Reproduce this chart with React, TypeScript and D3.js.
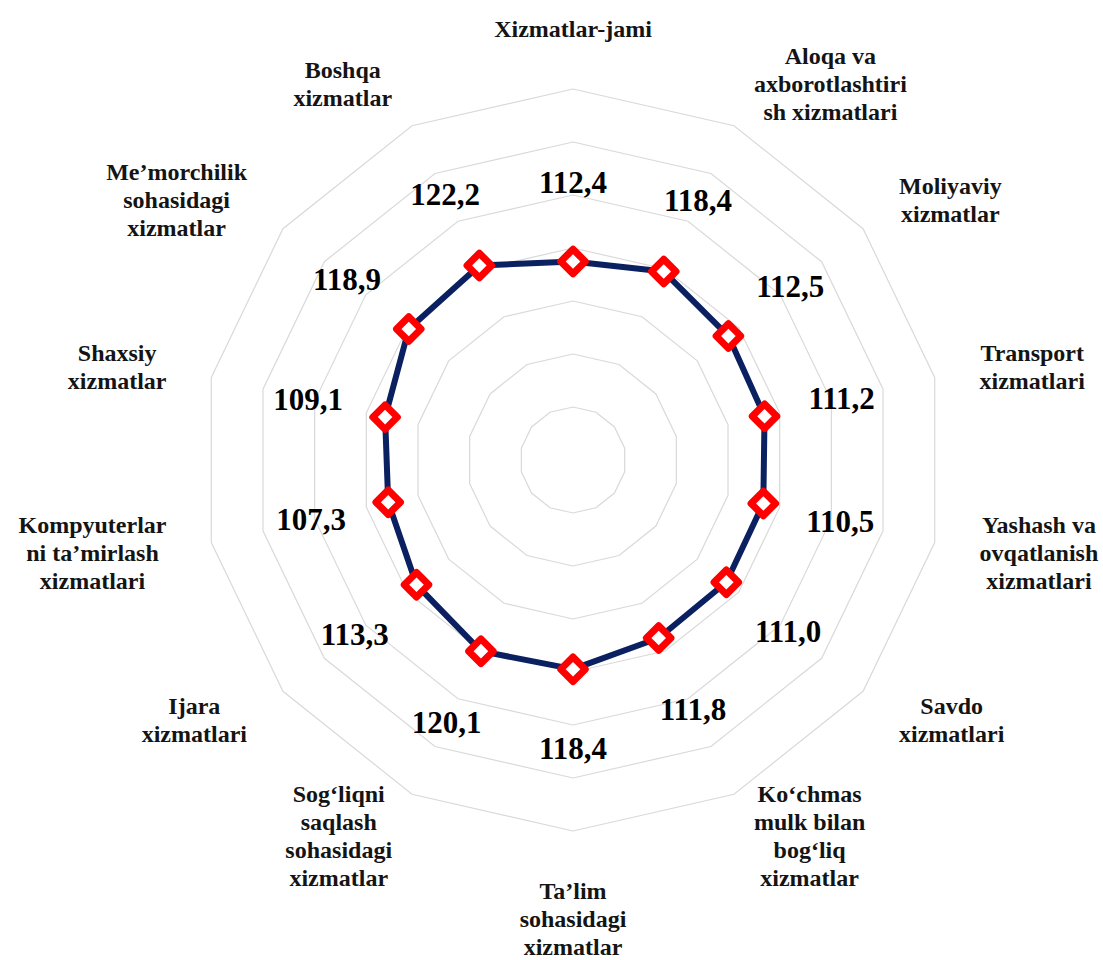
import React, { useRef, useEffect } from 'react';
import * as d3 from 'd3';

// Categories clockwise from the top, already split into lines as in the picture
const categories: string[][] = [
  ['Xizmatlar-jami'],
  ['Aloqa va', 'axborotlashtiri', 'sh xizmatlari'],
  ['Moliyaviy', 'xizmatlar'],
  ['Transport', 'xizmatlari'],
  ['Yashash va', 'ovqatlanish', 'xizmatlari'],
  ['Savdo', 'xizmatlari'],
  ['Ko‘chmas', 'mulk bilan', 'bog‘liq', 'xizmatlar'],
  ['Ta’lim', 'sohasidagi', 'xizmatlar'],
  ['Sog‘liqni', 'saqlash', 'sohasidagi', 'xizmatlar'],
  ['Ijara', 'xizmatlari'],
  ['Kompyuterlar', 'ni ta’mirlash', 'xizmatlari'],
  ['Shaxsiy', 'xizmatlar'],
  ['Me’morchilik', 'sohasidagi', 'xizmatlar'],
  ['Boshqa', 'xizmatlar'],
];

const values: number[] = [
  112.4, 118.4, 112.5, 111.2, 110.5, 111.0, 111.8, 118.4, 120.1, 113.3, 107.3,
  109.1, 118.9, 122.2,
];

// radial axis rings (axis 0..210, step 30)
const gridTicks: number[] = [30, 60, 90, 120, 150, 180, 210];

const width = 1103;
const height = 960;
const center = { x: 573, y: 460 };
const outerRadius = 371;
const font = "'Liberation Serif', 'Times New Roman', Times, serif";

export default function App() {
  const svgRef = useRef(null);

  useEffect(() => {
    const svg = d3.select(svgRef.current).attr('font-family', font);
    svg.selectAll('*').remove();

    const n = categories.length;
    const rScale = d3
      .scaleLinear()
      .domain([0, gridTicks[gridTicks.length - 1]])
      .range([0, outerRadius]);
    const angle = d3
      .scaleLinear()
      .domain([0, n])
      .range([0, 2 * Math.PI]);

    const container = svg
      .append('g')
      .attr('transform', `translate(${center.x}, ${center.y})`);

    // Grid rings
    const ring = d3
      .lineRadial<number>()
      .angle((_, i) => angle(i))
      .curve(d3.curveLinearClosed);

    container
      .append('g')
      .selectAll('path')
      .data(gridTicks)
      .join('path')
      .attr('d', (t) => ring.radius(rScale(t))(d3.range(n)))
      .attr('fill', 'none')
      .attr('stroke', '#d9d9d9')
      .attr('stroke-width', 1.2);

    // Series line
    const line = d3
      .lineRadial<number>()
      .angle((_, i) => angle(i))
      .radius((d) => rScale(d))
      .curve(d3.curveLinearClosed);

    container
      .append('path')
      .datum(values)
      .attr('d', line)
      .attr('fill', 'none')
      .attr('stroke', '#0b2060')
      .attr('stroke-width', 6)
      .attr('stroke-linejoin', 'round');

    const px = (a: number, r: number) => r * Math.sin(a);
    const py = (a: number, r: number) => -r * Math.cos(a);

    // Markers
    const marker = d3.symbol(d3.symbolSquare, 300);
    container
      .append('g')
      .selectAll('path')
      .data(values)
      .join('path')
      .attr('d', marker)
      .attr(
        'transform',
        (d, i) =>
          `translate(${px(angle(i), rScale(d))}, ${py(angle(i), rScale(d))}) rotate(45)`,
      )
      .attr('fill', '#ffffff')
      .attr('stroke', '#ff0000')
      .attr('stroke-width', 7)
      .attr('stroke-linejoin', 'round');

    // Value labels
    container
      .append('g')
      .selectAll('text')
      .data(values)
      .join('text')
      .attr('x', (d, i) => px(angle(i), rScale(d) + 79))
      .attr('y', (d, i) => py(angle(i), rScale(d) + 79))
      .attr('text-anchor', 'middle')
      .attr('dominant-baseline', 'central')
      .attr('font-family', font)
      .attr('font-weight', 'bold')
      .attr('font-size', 31)
      .attr('fill', '#000')
      .text((d) => d.toFixed(1).replace('.', ','));

    // Category labels
    const labelRadius = outerRadius + 46;
    const lineHeight = 28;
    const labels = container.append('g');
    categories.forEach((lines, i) => {
      const a = angle(i);
      const ax = px(a, labelRadius);
      const ay = py(a, labelRadius);
      const text = labels
        .append('text')
        .attr('text-anchor', 'middle')
        .attr('font-family', font)
        .attr('font-weight', 'bold')
        .attr('font-size', 24)
        .attr('fill', '#141414');
      const spans = lines.map((l) => text.append('tspan').text(l));
      const boxW =
        d3.max(spans, (s) => (s.node() as SVGTSpanElement).getComputedTextLength()) || 0;
      const boxH = lines.length * lineHeight;
      const s = Math.sin(a);
      const c = Math.cos(a);
      let bx = ax;
      let by = ay;
      if (s > 0.01) bx = ax + boxW / 2;
      else if (s < -0.01) bx = ax - boxW / 2;
      else by = c > 0 ? ay - boxH / 2 : ay + boxH / 2;
      spans.forEach((sp, j) => {
        sp.attr('x', bx)
          .attr('y', by + (j - (lines.length - 1) / 2) * lineHeight)
          .attr('dominant-baseline', 'central');
      });
    });
  }, []);

  return (
    <svg
      ref={svgRef}
      width={width}
      height={height}
      style={{ position: 'absolute', left: 0, top: 0, background: '#fff' }}
    />
  );
}
